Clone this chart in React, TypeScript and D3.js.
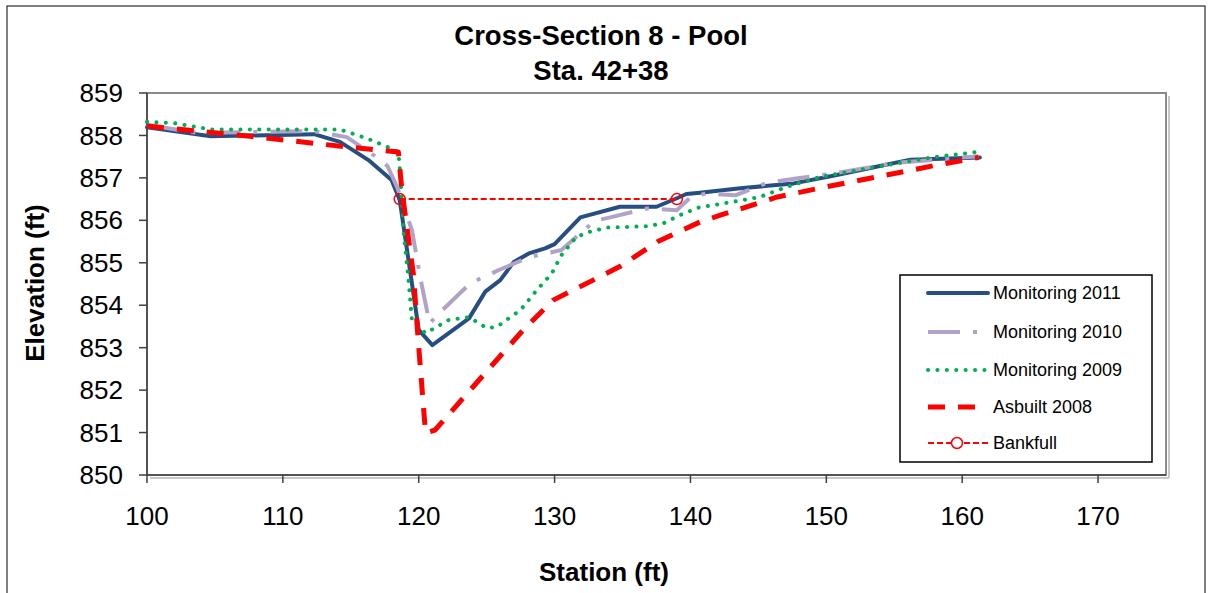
import React from 'react';
import * as d3 from 'd3';

// Monitoring 2011
const st2011 = [100, 104.7, 112.3, 114.2, 116.3, 118.0, 118.6, 120.0, 121.0, 123.7, 124.9, 126.0, 127.0, 128.1, 129.3, 130.0, 131.9, 134.8, 137.5, 139.0, 139.7, 140.7, 143.5, 147.6, 150.5, 153.5, 156.2, 161.3];
const el2011 = [858.19, 857.98, 858.03, 857.85, 857.42, 856.95, 856.48, 853.42, 853.06, 853.69, 854.32, 854.59, 855.02, 855.22, 855.34, 855.44, 856.07, 856.32, 856.32, 856.52, 856.62, 856.65, 856.75, 856.87, 857.05, 857.25, 857.43, 857.48];

// Monitoring 2010
const st2010 = [100, 103.7, 112.3, 114.7, 116.7, 117.7, 118.4, 119.5, 120.1, 120.8, 121.5, 123.8, 125.9, 128.2, 130.5, 132.6, 133.1, 134.1, 136.8, 139.0, 140.0, 141.1, 143.3, 145.6, 147.9, 150.5, 155.0, 161.2];
const el2010 = [858.25, 858.06, 858.1, 857.96, 857.53, 857.28, 856.79, 855.77, 854.67, 853.57, 853.81, 854.52, 854.83, 855.14, 855.3, 855.89, 856.0, 856.07, 856.28, 856.24, 856.54, 856.63, 856.59, 856.88, 856.99, 857.1, 857.35, 857.51];

// Monitoring 2009
const st2009 = [100, 102, 104.7, 114.2, 116.2, 117.7, 118.5, 118.64, 118.9, 119.25, 119.5, 120.5, 122.2, 123.7, 125.0, 125.75, 127.5, 128.7, 129.8, 130.5, 131.6, 132.6, 133.85, 136.8, 138.0, 139.2, 140.6, 143.9, 145.1, 147.1, 149.5, 153.7, 157.9, 161.1];
const el2009 = [858.32, 858.29, 858.14, 858.14, 857.93, 857.73, 857.61, 857.1, 855.69, 854.59, 853.65, 853.34, 853.65, 853.72, 853.46, 853.49, 853.89, 854.36, 854.75, 855.18, 855.61, 855.73, 855.83, 855.86, 855.93, 856.12, 856.3, 856.48, 856.55, 856.79, 857.02, 857.26, 857.49, 857.61];

// Asbuilt 2008
const st2008 = [100, 104.4, 107.6, 111.3, 114.7, 117.2, 118.5, 118.76, 119.6, 120.0, 120.5, 121.2, 125.3, 127.7, 129.9, 131.9, 134.8, 137.6, 140.7, 142.2, 146.4, 150.0, 153.7, 158.1, 161.2];
const el2008 = [858.22, 858.08, 857.98, 857.85, 857.73, 857.65, 857.61, 856.71, 854.75, 853.02, 850.99, 851.06, 852.55, 853.42, 854.12, 854.44, 854.91, 855.5, 855.96, 856.12, 856.55, 856.79, 857.02, 857.3, 857.48];

// Bankfull
const stBank = [118.6, 139.0];
const elBank = [856.5, 856.5];

const xTicks = [100, 110, 120, 130, 140, 150, 160, 170];
const yTicks = [850, 851, 852, 853, 854, 855, 856, 857, 858, 859];

const FONT = "Arial, 'Liberation Sans', sans-serif";

const W = 1208;
const H = 593;
const plot = { left: 147, top: 93, right: 1166, bottom: 475 };

const x = d3.scaleLinear().domain([100, 175]).range([plot.left, plot.right]);
const y = d3.scaleLinear().domain([850, 859]).range([plot.bottom, plot.top]);

type Pt = [number, number];
const zip = (s: number[], e: number[]): Pt[] => s.map((v, i) => [v, e[i]]);
const line = d3.line<Pt>().x((d) => x(d[0])).y((d) => y(d[1]));

const series = [
  { name: 'Monitoring 2011', data: zip(st2011, el2011), color: '#264E80', width: 4, dash: undefined as string | undefined, cap: 'round' },
  { name: 'Monitoring 2010', data: zip(st2010, el2010), color: '#B3A2C7', width: 4, dash: '32 13 4 13', cap: 'butt' },
  { name: 'Monitoring 2009', data: zip(st2009, el2009), color: '#00B050', width: 4, dash: '0.1 9.3', cap: 'round' },
  { name: 'Asbuilt 2008', data: zip(st2008, el2008), color: '#FF0000', width: 5, dash: '17 13', cap: 'butt' },
];

export default function App() {
  const bank = zip(stBank, elBank);
  const legendRows = [293, 332, 370, 407, 443];
  return (
    <svg width={W} height={H} style={{ position: 'absolute', left: 0, top: 0, background: '#fff' }} fontFamily={FONT}>
      {/* outer chart border */}
      <rect x={7} y={6} width={1198} height={600} fill="#fff" stroke="#000" strokeWidth={1} />

      {/* title */}
      <text x={601} y={45} textAnchor="middle" fontSize={27.5} fontWeight="bold">Cross-Section 8 - Pool</text>
      <text x={601} y={80} textAnchor="middle" fontSize={27.5} fontWeight="bold">Sta. 42+38</text>

      {/* plot area frame with shadow */}
      <line x1={plot.left + 3} x2={plot.right + 3} y1={plot.bottom + 3} y2={plot.bottom + 3} stroke="#c8c8c8" strokeWidth={2} />
      <line x1={plot.right + 3} x2={plot.right + 3} y1={plot.top + 3} y2={plot.bottom + 3} stroke="#c8c8c8" strokeWidth={2} />
      <rect x={plot.left} y={plot.top} width={plot.right - plot.left} height={plot.bottom - plot.top} fill="#fff" stroke="#8a8a8a" strokeWidth={2} />

      {/* axes */}
      <line x1={plot.left} x2={plot.left} y1={plot.top} y2={plot.bottom} stroke="#404040" strokeWidth={1.5} />
      <line x1={plot.left} x2={plot.right} y1={plot.bottom} y2={plot.bottom} stroke="#404040" strokeWidth={1.5} />
      {yTicks.map((t) => (
        <g key={'y' + t}>
          <line x1={plot.left - 8} x2={plot.left} y1={y(t)} y2={y(t)} stroke="#404040" strokeWidth={1.5} />
          <text x={123} y={y(t)} dy="0.35em" textAnchor="end" fontSize={26}>{t}</text>
        </g>
      ))}
      {xTicks.map((t) => (
        <g key={'x' + t}>
          <line x1={x(t)} x2={x(t)} y1={plot.bottom} y2={plot.bottom + 8} stroke="#404040" strokeWidth={1.5} />
          <text x={x(t)} y={516} dy="0.35em" textAnchor="middle" fontSize={26}>{t}</text>
        </g>
      ))}

      {/* axis titles */}
      <text x={604} y={572} dy="0.35em" textAnchor="middle" fontSize={26} fontWeight="bold">Station (ft)</text>
      <text transform="translate(35,283) rotate(-90)" dy="0.35em" textAnchor="middle" fontSize={26} fontWeight="bold">Elevation (ft)</text>

      {/* series */}
      {series.map((s) => (
        <path key={s.name} d={line(s.data) || ''} fill="none" stroke={s.color} strokeWidth={s.width}
          strokeDasharray={s.dash} strokeLinecap={s.cap as any} strokeLinejoin="round" />
      ))}
      <path d={line(bank) || ''} fill="none" stroke="#FF0000" strokeWidth={2} strokeDasharray="6 3" />
      {bank.map((d, i) => (
        <circle key={'b' + i} cx={x(d[0])} cy={y(d[1])} r={5.5} fill="none" stroke="#FF0000" strokeWidth={1.5} />
      ))}

      {/* legend */}
      <rect x={900} y={275} width={252} height={187} fill="#fff" stroke="#000" strokeWidth={1.5} />
      {series.map((s, i) => (
        <g key={'lg' + i}>
          <line x1={928} x2={988} y1={legendRows[i]} y2={legendRows[i]} stroke={s.color} strokeWidth={s.width}
            strokeDasharray={s.dash} strokeLinecap={s.cap as any} />
          <text x={993} y={legendRows[i]} dy="0.35em" fontSize={18}>{s.name}</text>
        </g>
      ))}
      <line x1={928} x2={988} y1={legendRows[4]} y2={legendRows[4]} stroke="#FF0000" strokeWidth={2} strokeDasharray="6 3" />
      <circle cx={957} cy={legendRows[4]} r={5.5} fill="#fff" stroke="#FF0000" strokeWidth={1.5} />
      <text x={993} y={legendRows[4]} dy="0.35em" fontSize={18}>Bankfull</text>
    </svg>
  );
}
